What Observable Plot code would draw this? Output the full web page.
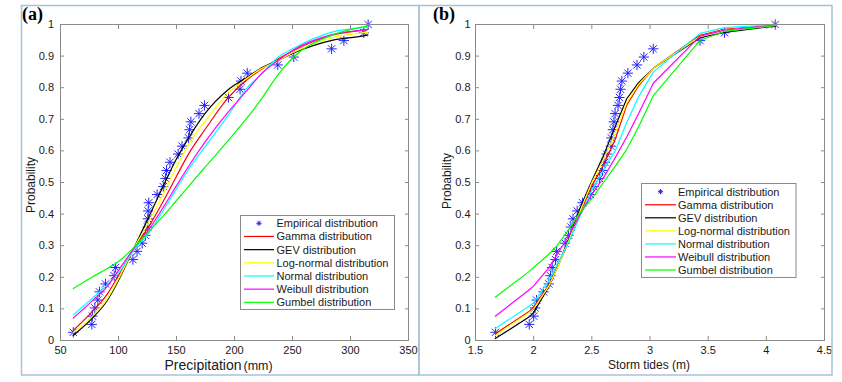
<!DOCTYPE html>
<html><head><meta charset="utf-8">
<script src="https://cdn.jsdelivr.net/npm/d3@7"></script>
<script src="https://cdn.jsdelivr.net/npm/@observablehq/plot@0.6"></script>
<style>
body{margin:0;background:#fff;}
#wrap{position:relative;width:842px;height:382px;overflow:hidden;font-family:"Liberation Sans",Arial,sans-serif;}
#wrap svg{position:absolute;top:0;}
</style></head><body><div id="wrap"></div>
<script>
// ---------- data ----------
const empProb = [0.026,0.051,0.077,0.103,0.128,0.154,0.179,0.205,0.231,0.256,0.282,0.308,0.333,0.359,0.385,0.410,0.436,0.462,0.487,0.513,0.538,0.564,0.590,0.615,0.641,0.667,0.692,0.718,0.744,0.769,0.795,0.821,0.846,0.872,0.897,0.923,0.949,0.974,1.000];
const precipEmp = [61,77,77.5,79.6,82.2,83.6,88.8,96.3,97.5,112.4,116,120.4,123.2,125.2,125.3,125.6,126.1,133.3,138.6,140.5,141.4,144.4,151.4,154.8,160.4,161.2,162.4,169.4,174.1,194.8,204.8,205.6,211,237.3,251.1,283.7,294.3,311.5,315.2];
const tideEmp = [1.672,1.962,2.000,2.012,2.025,2.085,2.130,2.145,2.159,2.188,2.198,2.270,2.300,2.320,2.338,2.374,2.420,2.489,2.517,2.565,2.592,2.612,2.628,2.663,2.668,2.681,2.690,2.700,2.725,2.737,2.747,2.758,2.810,2.888,2.947,3.028,3.430,3.641,4.076];

const precipGrid = [61,77,90,100,113,126,140,150,162,175,195,211,222,237,251,284,311,315];
const precipGamma   = [0.032,0.090,0.145,0.206,0.290,0.360,0.450,0.520,0.600,0.670,0.770,0.826,0.855,0.890,0.918,0.966,0.982,0.984];
const precipGEV     = [0.016,0.069,0.125,0.190,0.290,0.390,0.500,0.575,0.650,0.720,0.795,0.833,0.860,0.885,0.910,0.950,0.964,0.967];
const precipLogn    = [0.025,0.075,0.130,0.195,0.290,0.375,0.475,0.550,0.630,0.695,0.785,0.830,0.858,0.885,0.912,0.958,0.974,0.976];
const precipNormal  = [0.081,0.132,0.175,0.213,0.285,0.340,0.420,0.480,0.550,0.615,0.715,0.800,0.838,0.895,0.925,0.976,0.990,0.991];
const precipWeibull = [0.071,0.124,0.170,0.222,0.290,0.350,0.430,0.490,0.560,0.630,0.725,0.792,0.840,0.885,0.920,0.968,0.983,0.985];
const precipGumbel  = [0.164,0.200,0.227,0.250,0.293,0.345,0.400,0.443,0.495,0.550,0.635,0.705,0.758,0.838,0.897,0.966,0.993,0.996];

const tideGrid = [1.67,1.96,2.00,2.13,2.20,2.30,2.40,2.50,2.60,2.70,2.80,2.90,3.03,3.43,3.64,4.08];
const tideGamma   = [0.021,0.092,0.105,0.175,0.228,0.312,0.405,0.490,0.555,0.635,0.745,0.805,0.862,0.966,0.985,0.998];
const tideGEV     = [0.006,0.074,0.089,0.170,0.230,0.320,0.420,0.505,0.585,0.676,0.765,0.815,0.862,0.958,0.975,0.995];
const tideLogn    = [0.016,0.088,0.100,0.172,0.228,0.315,0.410,0.500,0.572,0.655,0.752,0.810,0.862,0.962,0.982,0.997];
const tideNormal  = [0.038,0.108,0.120,0.189,0.240,0.310,0.395,0.475,0.540,0.600,0.690,0.770,0.850,0.972,0.990,0.999];
const tideWeibull = [0.077,0.160,0.173,0.230,0.272,0.330,0.400,0.462,0.515,0.578,0.644,0.717,0.815,0.963,0.982,0.998];
const tideGumbel  = [0.137,0.218,0.231,0.273,0.300,0.350,0.405,0.449,0.500,0.551,0.605,0.675,0.776,0.950,0.978,0.997];

const yTicks = [0,0.1,0.2,0.3,0.4,0.5,0.6,0.7,0.8,0.9,1];
const precipTicks = [50,100,150,200,250,300,350];
const tideTicks = [1.5,2,2.5,3,3.5,4,4.5];

const seriesNames = ["Empirical distribution","Gamma distribution","GEV distribution","Log-normal distribution","Normal distribution","Weibull distribution","Gumbel distribution"];
const seriesColors = ["#2424ff","#ff0000","#000000","#ffff00","#00ffff","#ff00ff","#00ff00"];

// ---------- helpers ----------
const fmt = d3.format("~g");
const GRAY = "#8a8a8a";
function rows(xs, ys){ return xs.map((x,i)=>({x, p: ys[i]})); }

function panel({width, left, ml, mr, xDomain, xTicks, empX, curves, curveType, yPad}) {
  const emp = rows(empX, empProb);
  const lineMarks = curves.map((ys,i)=>Plot.line(rows(curveType.grid, ys), {x:"x", y:"p", stroke: seriesColors[i+1], strokeWidth: 1.2, curve: curveType.curve}));
  const svg = Plot.plot({
    width, height: 382, marginLeft: ml, marginRight: mr, marginTop: 24, marginBottom: 42,
    style: {fontFamily: '"Liberation Sans", Arial, sans-serif', fontSize: "11px", background: "transparent", color: "#1a1a1a"},
    x: {domain: xDomain},
    y: {domain: [0,1]},
    marks: [
      Plot.dot(emp, {x:"x", y:"p", symbol:"plus", r:3.4, stroke: seriesColors[0], strokeWidth: 1}),
      Plot.dot(emp, {x:"x", y:"p", symbol:"times", r:3.4, stroke: seriesColors[0], strokeWidth: 1}),
      ...lineMarks,
      Plot.frame({stroke: GRAY}),
      Plot.axisX({anchor:"bottom", ticks: xTicks, tickSize: -4, tickPadding: 10, tickFormat: fmt, label: null, stroke: GRAY, fill:"#1a1a1a"}),
      Plot.axisX({anchor:"top", ticks: xTicks, tickSize: -4, tickFormat: () => "", label: null, stroke: GRAY}),
      Plot.axisY({anchor:"left", ticks: yTicks, tickSize: -4, tickPadding: yPad, tickFormat: fmt, label: null, stroke: GRAY, fill:"#1a1a1a"}),
      Plot.axisY({anchor:"right", ticks: yTicks, tickSize: -4, tickFormat: () => "", label: null, stroke: GRAY})
    ]
  });
  svg.style.left = left + "px";
  document.getElementById("wrap").appendChild(svg);
}

panel({width: 420, left: 0, ml: 60, mr: 12, xDomain: [50,350], xTicks: precipTicks, empX: precipEmp,
  curves: [precipGamma, precipGEV, precipLogn, precipNormal, precipWeibull, precipGumbel],
  curveType: {grid: precipGrid, curve: "monotone-x"}, yPad: 10.5});
panel({width: 422, left: 420, ml: 55, mr: 18, xDomain: [1.5,4.5], xTicks: tideTicks, empX: tideEmp,
  curves: [tideGamma, tideGEV, tideLogn, tideNormal, tideWeibull, tideGumbel],
  curveType: {grid: tideGrid, curve: "linear"}, yPad: 9});

// ---------- overlay: frames, labels, legends ----------
const ov = d3.select("#wrap").append("svg").attr("width",842).attr("height",382).style("left","0px");
const FR = "#a7c2d8";
ov.append("rect").attr("x",21.5).attr("y",5.5).attr("width",397.5).attr("height",369.5).attr("fill","none").attr("stroke",FR).attr("stroke-width",1.5);
ov.append("rect").attr("x",419).attr("y",5.5).attr("width",413).attr("height",369.5).attr("fill","none").attr("stroke",FR).attr("stroke-width",1.5);

const serif = '"Liberation Serif","Times New Roman",serif';
ov.append("text").attr("x",22).attr("y",20).attr("font-family",serif).attr("font-weight","bold").attr("font-size",18).text("(a)");
ov.append("text").attr("x",433).attr("y",20).attr("font-family",serif).attr("font-weight","bold").attr("font-size",18).text("(b)");

const sans = '"Liberation Sans", Arial, sans-serif';
const xl = ov.append("text").attr("x",164.5).attr("y",370).attr("font-family",sans).attr("fill","#1a1a1a");
xl.append("tspan").attr("font-size",14).text("Precipitation");
xl.append("tspan").attr("font-size",12.5).attr("dx",2).text("(mm)");
ov.append("text").attr("x",649).attr("y",369).attr("text-anchor","middle").attr("font-family",sans).attr("font-size",12).attr("fill","#1a1a1a").text("Storm tides (m)");
ov.append("text").attr("transform","translate(35,185) rotate(-90)").attr("text-anchor","middle").attr("font-family",sans).attr("font-size",12).attr("fill","#1a1a1a").text("Probability");
ov.append("text").attr("transform","translate(451,181) rotate(-90)").attr("text-anchor","middle").attr("font-family",sans).attr("font-size",12).attr("fill","#1a1a1a").text("Probability");

function legend(x0, y0, w, h, rowY0, dy, lx0, lx1, tx) {
  ov.append("rect").attr("x",x0).attr("y",y0).attr("width",w).attr("height",h).attr("fill","#fff").attr("stroke",GRAY).attr("stroke-width",1);
  seriesNames.forEach((name,i)=>{
    const y = rowY0 + i*dy;
    if (i === 0) {
      const cx = (lx0+lx1)/2, r = 2.6;
      const g = ov.append("g").attr("stroke",seriesColors[0]).attr("stroke-width",1);
      g.append("line").attr("x1",cx-r).attr("x2",cx+r).attr("y1",y).attr("y2",y);
      g.append("line").attr("x1",cx).attr("x2",cx).attr("y1",y-r).attr("y2",y+r);
      g.append("line").attr("x1",cx-r*0.7).attr("x2",cx+r*0.7).attr("y1",y-r*0.7).attr("y2",y+r*0.7);
      g.append("line").attr("x1",cx-r*0.7).attr("x2",cx+r*0.7).attr("y1",y+r*0.7).attr("y2",y-r*0.7);
    } else {
      ov.append("line").attr("x1",lx0).attr("x2",lx1).attr("y1",y).attr("y2",y).attr("stroke",seriesColors[i]).attr("stroke-width",1.2);
    }
    ov.append("text").attr("x",tx).attr("y",y).attr("dy","0.36em").attr("font-family",sans).attr("font-size",11).attr("fill","#1a1a1a").text(name);
  });
}
legend(240.5, 215.5, 154, 94, 223.3, 13.17, 244, 274, 276.5);
legend(641.5, 183.5, 154.5, 94, 191.7, 13.05, 645, 676, 678);
</script></body></html>
